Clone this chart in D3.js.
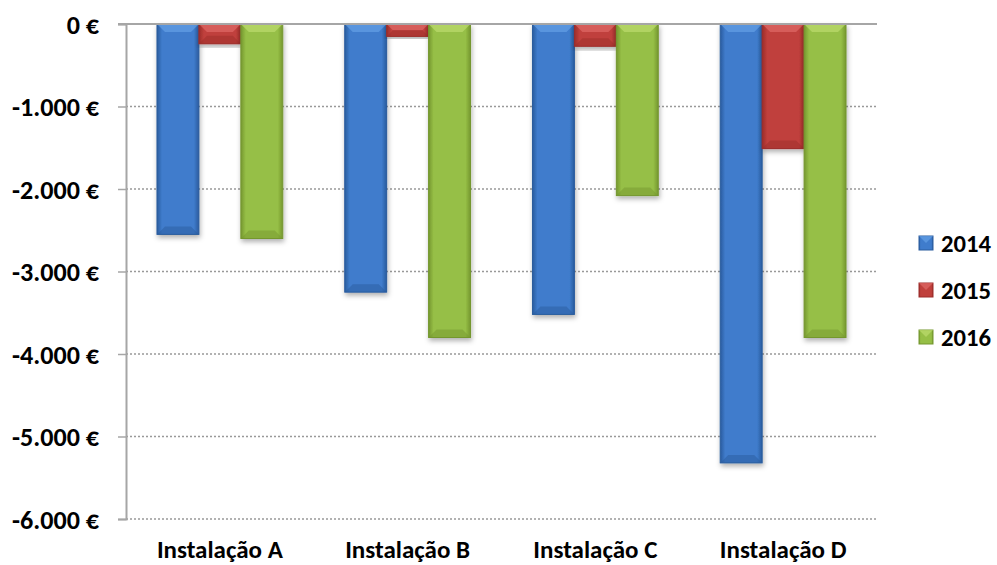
<!DOCTYPE html>
<html><head><meta charset="utf-8">
<script src="https://cdn.jsdelivr.net/npm/d3@7"></script>
<style>body{margin:0;background:#fff}text{font-family:Carlito,Lato,"Open Sans",sans-serif;font-weight:bold}</style>
</head><body><svg id="c" width="997" height="565"></svg>
<script>
const categories = ["Instalação A","Instalação B","Instalação C","Instalação D"];
const seriesNames = ["2014","2015","2016"];
const v2014 = [-2550,-3250,-3520,-5320];
const v2015 = [-240,-150,-270,-1510];
const v2016 = [-2600,-3800,-2080,-3800];
const yTicks = [0,-1000,-2000,-3000,-4000,-5000,-6000];
const colors = {"2014":["#2a5c9e","#3f7ccc","#64a0e6"],"2015":["#9c2d2a","#c0403c","#e06a66"],"2016":["#75972f","#96bf46","#bcdc6e"]};

const svg = d3.select("#c");
const series = [v2014,v2015,v2016];
const L=126,R=877,T=24,B=519;
const x0 = d3.scaleBand().domain(categories).range([L,R]).paddingInner(0.33).paddingOuter(0.165);
const x1 = d3.scaleBand().domain(seriesNames).range([0,x0.bandwidth()]);
const y = d3.scaleLinear().domain([0,-6000]).range([T,B]);

function fit(sel, sampleNode, target){
  sel.style("font-size","20px");
  const w = sampleNode.getComputedTextLength();
  sel.style("font-size",(20*target/w).toFixed(2)+"px");
}

const defs = svg.append("defs");
seriesNames.forEach(s=>{
  const c = colors[s];
  const g = defs.append("linearGradient").attr("id","g"+s).attr("x1",0).attr("x2",1).attr("y1",0).attr("y2",0);
  g.append("stop").attr("offset","0").attr("stop-color",c[0]);
  g.append("stop").attr("offset","0.12").attr("stop-color",c[1]);
  g.append("stop").attr("offset","0.88").attr("stop-color",c[1]);
  g.append("stop").attr("offset","1").attr("stop-color",c[0]);
});
const f = defs.append("filter").attr("id","sh").attr("x","-20%").attr("y","-20%").attr("width","140%").attr("height","140%");
f.append("feDropShadow").attr("dx",1).attr("dy",3).attr("stdDeviation",2.5).attr("flood-color","#000").attr("flood-opacity",0.3);

svg.append("g").selectAll("line").data(yTicks.filter(d=>d!==0)).join("line")
  .attr("x1",L).attr("x2",R).attr("y1",d=>y(d)).attr("y2",d=>y(d))
  .attr("stroke","#999").attr("stroke-width",1.3).attr("stroke-dasharray","2,2");

const bars = svg.append("g");
categories.forEach((cat,i)=>{
  seriesNames.forEach((s,j)=>{
    const v = series[j][i];
    const bx = x0(cat)+x1(s), bw = x1.bandwidth(), by = y(0), bh = y(v)-y(0);
    const g = bars.append("g");
    g.append("rect").attr("x",bx).attr("y",by).attr("width",bw).attr("height",bh)
      .attr("fill","url(#g"+s+")").attr("stroke",colors[s][0]).attr("stroke-width",1).attr("filter","url(#sh)");
    const bev = Math.min(8,bh/2);
    g.append("path").attr("d",`M${bx},${by}L${bx+bw},${by}L${bx+bw-bev},${by+bev}L${bx+bev},${by+bev}Z`)
      .attr("fill",colors[s][2]).attr("opacity",0.7);
    g.append("path").attr("d",`M${bx},${by+bh}L${bx+bw},${by+bh}L${bx+bw-bev},${by+bh-bev}L${bx+bev},${by+bh-bev}Z`)
      .attr("fill",colors[s][0]).attr("opacity",0.5);
  });
});

const yAxis = svg.append("g").attr("transform",`translate(${L},0)`)
  .call(d3.axisLeft(y).tickValues(yTicks).tickSize(8).tickPadding(19)
    .tickFormat(d=>d3.format(",")(d).replace(/,/g,".").replace("−","-")+" €"));
yAxis.select(".domain").attr("stroke","#a6a6a6").attr("stroke-width",2);
yAxis.selectAll(".tick line").attr("stroke","#a6a6a6").attr("stroke-width",1.5);
const yt = yAxis.selectAll("text").attr("fill","#000").attr("dy","0.36em");
fit(yt, yt.nodes()[yt.size()-1], 87);

svg.append("line").attr("x1",L-8).attr("x2",R).attr("y1",y(0)).attr("y2",y(0)).attr("stroke","#a6a6a6").attr("stroke-width",2);

const xAxis = svg.append("g").attr("transform",`translate(0,${B})`)
  .call(d3.axisBottom(x0).tickSize(0).tickPadding(0));
xAxis.select(".domain").remove();
const xt = xAxis.selectAll("text").attr("fill","#000").attr("dy",null).attr("y",39);
fit(xt, xt.nodes()[0], 126);

const lg = svg.append("g");
seriesNames.forEach((s,i)=>{
  const ly = 243 + i*47;
  lg.append("rect").attr("x",919).attr("y",ly-7).attr("width",14).attr("height",14)
    .attr("fill","url(#g"+s+")").attr("stroke",colors[s][0]);
  lg.append("path").attr("d",`M919,${ly-7}L933,${ly-7}L926,${ly}Z`).attr("fill",colors[s][2]).attr("opacity",0.7);
  lg.append("text").attr("x",941).attr("y",ly).attr("dy","0.36em").attr("fill","#000").text(s);
});
const lt = lg.selectAll("text");
fit(lt, lt.nodes()[0], 50);
</script></body></html>
